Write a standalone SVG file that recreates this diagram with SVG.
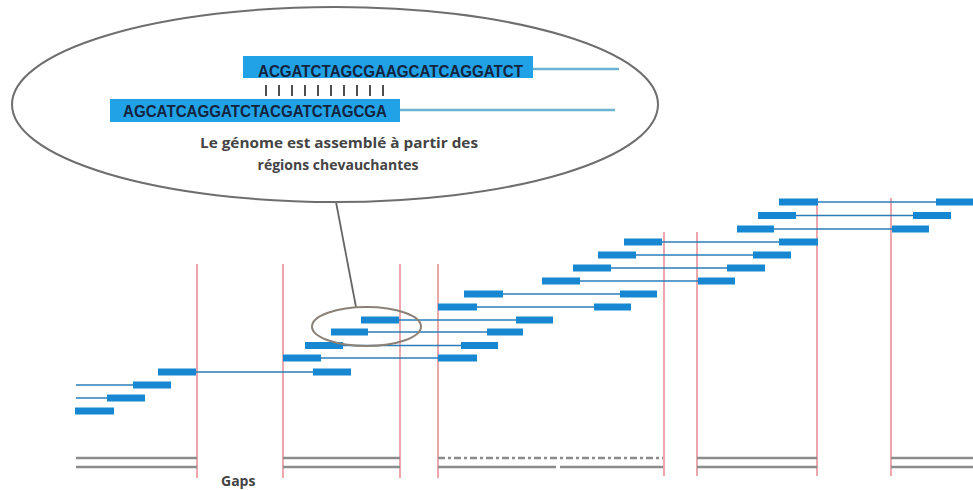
<svg xmlns="http://www.w3.org/2000/svg" width="973" height="490" viewBox="0 0 973 490">
<style>
.read{fill:#1787d2}
.link{stroke:#2a7cb8;stroke-width:1.5;fill:none}
.gap{stroke:#e58a90;stroke-width:1.5;fill:none}
.genome{stroke:#8c8c8c;stroke-width:2.5;fill:none}
.seqbar{fill:#22a2e6}
.seqline{stroke:#6ab4d2;stroke-width:2.5;fill:none}
.seq{font-family:"Liberation Sans",Arial,sans-serif;font-weight:bold;font-size:16px;fill:#13243f}
.cap{font-family:"Open Sans","Liberation Sans",sans-serif;font-weight:bold;font-size:14px;fill:#444}
.tick{stroke:#222;stroke-width:1.6}
</style>
<rect width="973" height="490" fill="#fff"/>

<g id="gap-lines">
<line class="gap" x1="197" y1="264" x2="197" y2="478"/>
<line class="gap" x1="283" y1="264" x2="283" y2="478"/>
<line class="gap" x1="400" y1="264" x2="400" y2="478"/>
<line class="gap" x1="438" y1="264" x2="438" y2="478"/>
<line class="gap" x1="664" y1="232" x2="664" y2="476"/>
<line class="gap" x1="697" y1="232" x2="697" y2="476"/>
<line class="gap" x1="817" y1="198" x2="817" y2="476"/>
<line class="gap" x1="891" y1="198" x2="891" y2="476"/>
</g>

<g id="genome">
<line class="genome" x1="76" y1="458" x2="197" y2="458"/>
<line class="genome" x1="76" y1="467" x2="197" y2="467"/>
<line class="genome" x1="283" y1="458" x2="400" y2="458"/>
<line class="genome" x1="283" y1="467" x2="400" y2="467"/>
<line class="genome" x1="438" y1="458" x2="663" y2="458" stroke-dasharray="7 3 3 3" stroke="#a0a0a0"/>
<line class="genome" x1="438" y1="467" x2="556" y2="467"/>
<line class="genome" x1="560" y1="467" x2="663" y2="467"/>
<line class="genome" x1="697" y1="458" x2="817" y2="458"/>
<line class="genome" x1="697" y1="467" x2="817" y2="467"/>
<line class="genome" x1="891" y1="458" x2="973" y2="458"/>
<line class="genome" x1="891" y1="467" x2="973" y2="467"/>
</g>

<g id="connectors">
<line class="link" x1="76" y1="398" x2="107" y2="398"/>
<line class="link" x1="76" y1="385" x2="133" y2="385"/>
<line class="link" x1="196" y1="372" x2="313" y2="372"/>
<line class="link" x1="321" y1="358" x2="438" y2="358"/>
<line class="link" x1="343" y1="345.5" x2="461" y2="345.5"/>
<line class="link" x1="368" y1="332" x2="487" y2="332"/>
<line class="link" x1="399" y1="320" x2="516" y2="320"/>
<line class="link" x1="477" y1="307" x2="594" y2="307"/>
<line class="link" x1="503" y1="294" x2="620" y2="294"/>
<line class="link" x1="580" y1="281" x2="698" y2="281"/>
<line class="link" x1="611" y1="268" x2="727" y2="268"/>
<line class="link" x1="636" y1="255" x2="753" y2="255"/>
<line class="link" x1="662" y1="242" x2="779" y2="242"/>
<line class="link" x1="774" y1="229" x2="892" y2="229"/>
<line class="link" x1="796" y1="215.5" x2="913" y2="215.5"/>
<line class="link" x1="818" y1="202" x2="936" y2="202"/>
<line x1="336" y1="202" x2="356" y2="307" stroke="#666" stroke-width="1.8"/>
</g>

<g id="reads">
<rect class="read" x="75" y="407.5" width="39" height="7"/>
<rect class="read" x="107" y="394.5" width="38" height="7"/>
<rect class="read" x="133" y="381.5" width="38" height="7"/>
<rect class="read" x="158" y="368.5" width="38" height="7"/>
<rect class="read" x="313" y="368.5" width="38" height="7"/>
<rect class="read" x="283" y="354.5" width="38" height="7"/>
<rect class="read" x="438" y="354.5" width="39" height="7"/>
<rect class="read" x="305" y="342" width="38" height="7"/>
<rect class="read" x="461" y="342" width="37" height="7"/>
<rect class="read" x="331" y="328.5" width="37" height="7"/>
<rect class="read" x="487" y="328.5" width="36" height="7"/>
<rect class="read" x="361" y="316.5" width="38" height="7"/>
<rect class="read" x="516" y="316.5" width="37" height="7"/>
<rect class="read" x="438" y="303.5" width="39" height="7"/>
<rect class="read" x="594" y="303.5" width="37" height="7"/>
<rect class="read" x="464" y="290.5" width="39" height="7"/>
<rect class="read" x="620" y="290.5" width="37" height="7"/>
<rect class="read" x="542" y="277.5" width="38" height="7"/>
<rect class="read" x="698" y="277.5" width="37" height="7"/>
<rect class="read" x="573" y="264.5" width="38" height="7"/>
<rect class="read" x="727" y="264.5" width="38" height="7"/>
<rect class="read" x="598" y="251.5" width="38" height="7"/>
<rect class="read" x="753" y="251.5" width="38" height="7"/>
<rect class="read" x="624" y="238.5" width="38" height="7"/>
<rect class="read" x="779" y="238.5" width="39" height="7"/>
<rect class="read" x="737" y="225.5" width="37" height="7"/>
<rect class="read" x="892" y="225.5" width="37" height="7"/>
<rect class="read" x="758" y="212" width="38" height="7"/>
<rect class="read" x="913" y="212" width="38" height="7"/>
<rect class="read" x="779" y="198.5" width="39" height="7"/>
<rect class="read" x="936" y="198.5" width="37" height="7"/>
</g>

<g id="zoom-ellipse">
<ellipse cx="366.5" cy="326.5" rx="54.5" ry="19.5" fill="none" stroke="#8a8276" stroke-width="2"/>
</g>

<g id="callout">
<ellipse cx="335" cy="104.5" rx="323" ry="97.5" fill="#fff" stroke="#6e6e6e" stroke-width="2"/>
<line class="seqline" x1="533" y1="69" x2="619" y2="69"/>
<line class="seqline" x1="400" y1="110" x2="615" y2="110"/>
<rect class="seqbar" x="243" y="56" width="290" height="22"/>
<rect class="seqbar" x="110" y="99" width="290" height="23"/>
<text class="seq" x="258" y="76.5" textLength="265" lengthAdjust="spacingAndGlyphs">ACGATCTAGCGAAGCATCAGGATCT</text>
<text class="seq" x="123" y="117" textLength="264" lengthAdjust="spacingAndGlyphs">AGCATCAGGATCTACGATCTAGCGA</text>
<g id="ticks">
<line class="tick" x1="266" y1="85" x2="266" y2="96"/>
<line class="tick" x1="279" y1="85" x2="279" y2="96"/>
<line class="tick" x1="292" y1="85" x2="292" y2="96"/>
<line class="tick" x1="305" y1="85" x2="305" y2="96"/>
<line class="tick" x1="318" y1="85" x2="318" y2="96"/>
<line class="tick" x1="331" y1="85" x2="331" y2="96"/>
<line class="tick" x1="344" y1="85" x2="344" y2="96"/>
<line class="tick" x1="357" y1="85" x2="357" y2="96"/>
<line class="tick" x1="370" y1="85" x2="370" y2="96"/>
<line class="tick" x1="383" y1="85" x2="383" y2="96"/>
</g>
<text class="cap" x="339" y="148" text-anchor="middle" textLength="278" lengthAdjust="spacingAndGlyphs">Le génome est assemblé à partir des</text>
<text class="cap" x="338" y="170" text-anchor="middle">régions chevauchantes</text>
</g>

<g id="label-gaps">
<text class="cap" x="221" y="486">Gaps</text>
</g>
</svg>
